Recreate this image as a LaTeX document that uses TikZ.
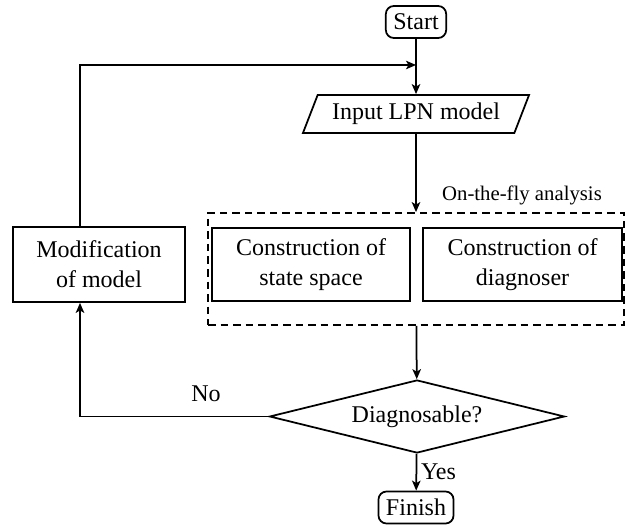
\documentclass[tikz,border=0pt]{standalone}
\usepackage{fontspec}
\setmainfont{Liberation Serif}
\usetikzlibrary{shapes.geometric,arrows.meta,positioning}
\begin{document}
\begin{tikzpicture}[x=0.4pt,y=-0.4pt,
  font=\fontsize{9.6}{12}\selectfont,
  line width=0.7pt,
  arr/.style={-{Stealth[length=4pt,width=3.4pt,inset=1pt]}},
  term/.style={draw,rounded corners=3.2pt,inner xsep=3pt,inner ysep=0pt,minimum height=12.8pt},
  procbox/.style={draw,align=center,inner sep=0pt},
  dec/.style={draw,diamond,aspect=4,inner sep=0pt,minimum width=118pt,minimum height=29.2pt},
  inbox/.style={draw,trapezium,trapezium left angle=60,trapezium right angle=120,trapezium stretches=true,minimum width=90.8pt,minimum height=15.2pt,inner sep=0pt}
]
\useasboundingbox (0,0) rectangle (625,525);
\node[term] (start) at (416,22) {Start};
\node[inbox] (inp) at (416,114) {Input LPN model};
\node[draw,dash pattern=on 3pt off 2pt,minimum width=166.4pt,minimum height=44.8pt,inner sep=0pt] (fly) at (416,269) {};
\node[font=\fontsize{8.3}{10}\selectfont] (flylab) at (522,195) {On-the-fly analysis};
\node[procbox,minimum width=79.2pt,minimum height=29.2pt] (ss) at (311,264.5) {Construction of\\state space};
\node[procbox,minimum width=79.6pt,minimum height=29.2pt] (dg) at (522.5,264.5) {Construction of\\diagnoser};
\node[procbox,minimum width=68.8pt,minimum height=30pt] (mod) at (99,264.5) {Modification\\of model};
\node[dec] (dia) at (417,416.5) {Diagnosable?};
\node[term] (fin) at (416,507.5) {Finish};
\coordinate (mb) at ([xshift=-7.6pt]mod.south);
\coordinate (mt) at ([xshift=-7.6pt]mod.north);
\coordinate (join) at (416,65);
\draw[arr] (start) -- (inp);
\draw[arr] (inp) -- (fly);
\draw[arr] (fly) -- (dia);
\draw[arr] (dia) -- node[right,inner sep=1.5pt] (yes) {Yes} (fin);
\draw[arr] (dia.west) -| (mb);
\node (no) at (206,394) {No};
\draw[arr] (mt) |- (join);
\end{tikzpicture}
\end{document}
